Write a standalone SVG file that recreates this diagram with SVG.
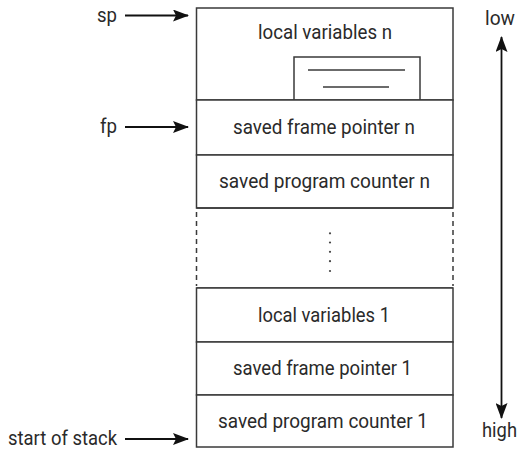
<svg xmlns="http://www.w3.org/2000/svg" width="521" height="449" viewBox="0 0 521 449">
<style>
.cell{fill:#fff;stroke:#3a3a3a;stroke-width:1.5}
.ln{stroke:#3a3a3a;stroke-width:1.5;fill:none}
.dash{stroke:#3a3a3a;stroke-width:1.5;stroke-dasharray:5 4;fill:none}
.t{font-family:Roboto,"Liberation Sans",sans-serif;font-size:21px;fill:#2a2a2a}
.c{text-anchor:middle}
.arr{stroke:#111;stroke-width:1.8;fill:none}
.dot{fill:#444}
</style>
<defs>
<marker id="ah" viewBox="0 0 16 12" refX="15" refY="6" markerWidth="16" markerHeight="12" markerUnits="userSpaceOnUse" orient="auto">
<path d="M0,0 L16,6 L0,12 L3,6 Z" fill="#111"/>
</marker>
</defs>
<rect width="521" height="449" fill="#fff"/>
<g id="cell-local-n">
<rect class="cell" x="196.5" y="8" width="256.5" height="92"/>
<text class="t c" x="325" y="39" textLength="134" lengthAdjust="spacingAndGlyphs">local variables n</text>
<rect class="cell" x="294" y="57" width="126" height="43"/>
<line class="ln" x1="308" y1="70" x2="405" y2="70"/>
<line class="ln" x1="323" y1="87" x2="389" y2="87"/>
</g>
<g id="cell-fp-n">
<rect class="cell" x="196.5" y="100" width="256.5" height="55"/>
<text class="t c" x="324" y="134" textLength="182" lengthAdjust="spacingAndGlyphs">saved frame pointer n</text>
</g>
<g id="cell-pc-n">
<rect class="cell" x="196.5" y="155" width="256.5" height="53"/>
<text class="t c" x="324.5" y="188" textLength="211" lengthAdjust="spacingAndGlyphs">saved program counter n</text>
</g>
<g id="cell-gap">
<line class="ln" x1="196.5" y1="208" x2="453" y2="208"/>
<line class="ln" x1="196.5" y1="288" x2="453" y2="288"/>
<line class="dash" x1="196.5" y1="212" x2="196.5" y2="286"/>
<line class="dash" x1="453" y1="212" x2="453" y2="286"/>
<circle class="dot" cx="330" cy="233.3" r="1.1"/>
<circle class="dot" cx="330" cy="242.5" r="1.1"/>
<circle class="dot" cx="330" cy="251.8" r="1.1"/>
<circle class="dot" cx="330" cy="261.2" r="1.1"/>
<circle class="dot" cx="330" cy="271" r="1.1"/>
</g>
<g id="cell-local-1">
<rect class="cell" x="196.5" y="288" width="256.5" height="54"/>
<text class="t c" x="324" y="322" textLength="132" lengthAdjust="spacingAndGlyphs">local variables 1</text>
</g>
<g id="cell-fp-1">
<rect class="cell" x="196.5" y="342" width="256.5" height="53"/>
<text class="t c" x="322.5" y="375" textLength="179" lengthAdjust="spacingAndGlyphs">saved frame pointer 1</text>
</g>
<g id="cell-pc-1">
<rect class="cell" x="196.5" y="395" width="256.5" height="52"/>
<text class="t c" x="323" y="428" textLength="210" lengthAdjust="spacingAndGlyphs">saved program counter 1</text>
</g>
<g id="label-sp">
<text class="t" x="97" y="22" textLength="20" lengthAdjust="spacingAndGlyphs">sp</text>
</g>
<g id="label-fp">
<text class="t" x="100" y="133" textLength="17" lengthAdjust="spacingAndGlyphs">fp</text>
</g>
<g id="label-start">
<text class="t" x="8" y="445" textLength="109" lengthAdjust="spacingAndGlyphs">start of stack</text>
</g>
<g id="label-low">
<text class="t" x="485" y="25" textLength="30" lengthAdjust="spacingAndGlyphs">low</text>
</g>
<g id="label-high">
<text class="t" x="482" y="437" textLength="35" lengthAdjust="spacingAndGlyphs">high</text>
</g>
<g id="connectors">
<line class="arr" x1="125" y1="15.5" x2="188" y2="15.5" marker-end="url(#ah)"/>
<line class="arr" x1="125" y1="127" x2="188" y2="127" marker-end="url(#ah)"/>
<line class="arr" x1="125" y1="439" x2="188" y2="439" marker-end="url(#ah)"/>
<line class="arr" x1="501.5" y1="228" x2="501.5" y2="37" marker-end="url(#ah)"/>
<line class="arr" x1="501.5" y1="228" x2="501.5" y2="418" marker-end="url(#ah)"/>
</g>
</svg>
